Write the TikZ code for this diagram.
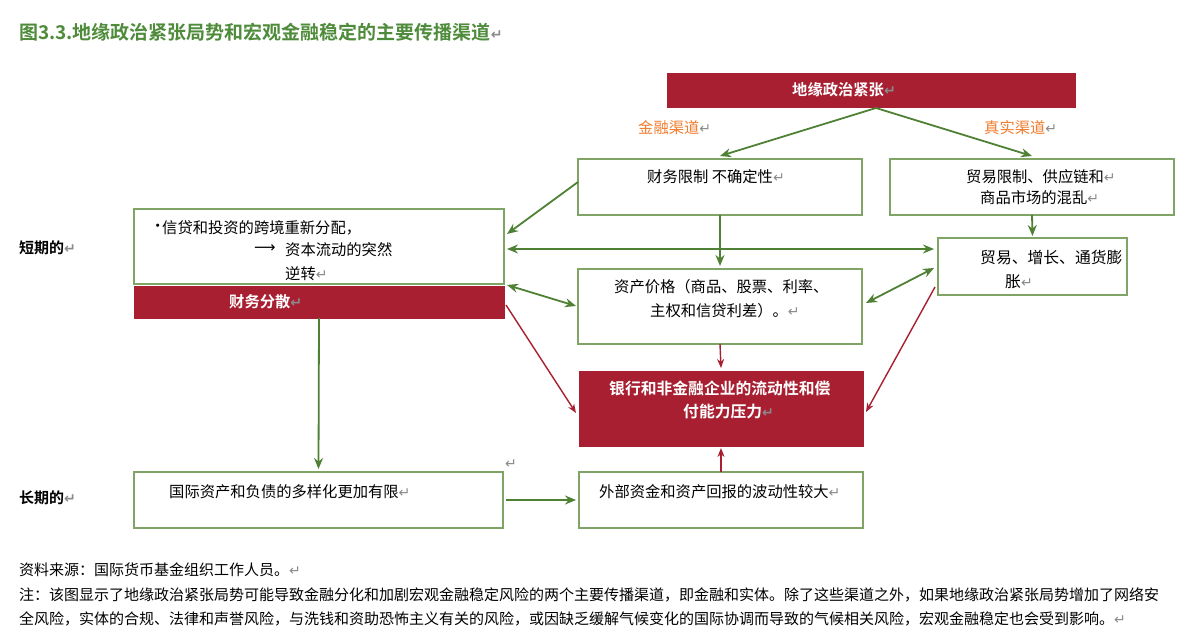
\documentclass[tikz,border=0pt]{standalone}
\usepackage{fontspec}
\setmainfont{Noto Sans CJK SC}[BoldFont={Noto Sans CJK SC Bold}]
\newfontfamily\djv{DejaVu Sans}
\usetikzlibrary{arrows.meta,calc}
\definecolor{darkred}{HTML}{A71F30}
\definecolor{arrowgreen}{HTML}{4F8135}
\definecolor{boxgreen}{HTML}{7FA466}
\definecolor{titlegreen}{HTML}{4E8B3A}
\definecolor{chanorange}{HTML}{F07D2E}
\definecolor{retgray}{HTML}{8A8A8A}
\newcommand\retmk{{\djv\fontsize{14pt}{14pt}\selectfont\color{retgray}↵}}
\begin{document}
\begin{tikzpicture}[x=1pt,y=-1pt,
  greenbox/.style={draw=boxgreen,line width=1.3pt,fill=white,inner sep=0pt,outer sep=0pt,anchor=north west},
  redbox/.style={fill=darkred,draw=darkred,line width=0.6pt,inner sep=0pt,outer sep=0pt,anchor=north west},
  txt/.style={inner sep=0pt,anchor=west,font=\fontsize{15.3pt}{18pt}\selectfont},
  bigtxt/.style={txt,font=\fontsize{15.8pt}{18pt}\selectfont},
  wtxt/.style={txt,text=white,font=\fontsize{15.3pt}{18pt}\selectfont\bfseries},
  wbigtxt/.style={txt,text=white,font=\fontsize{15.8pt}{18pt}\selectfont\bfseries},
  garrow/.style={draw=arrowgreen,line width=1.8pt,-{Stealth[length=11pt,width=9pt]}},
  gdarrow/.style={draw=arrowgreen,line width=1.8pt,{Stealth[length=11pt,width=9pt]}-{Stealth[length=11pt,width=9pt]}},
  rarrow/.style={draw=darkred,line width=1.4pt,-{Stealth[length=9pt,width=7pt]}}]
\useasboundingbox (0,0) rectangle (1200,644);
\fill[white] (0,0) rectangle (1200,644);

% title
\node[txt,anchor=west,text=titlegreen,font=\fontsize{19pt}{22pt}\selectfont\bfseries] (title) at (19,32) {图3.3.地缘政治紧张局势和宏观金融稳定的主要传播渠道\retmk};

% boxes
\node[redbox,minimum width=408pt,minimum height=34pt] (top) at (667,73) {};
\node[greenbox,minimum width=284pt,minimum height=56pt] (fin) at (578,159) {};
\node[greenbox,minimum width=284pt,minimum height=56pt] (trade) at (890,159) {};
\node[greenbox,minimum width=189pt,minimum height=57pt] (tgi) at (938,238) {};
\node[greenbox,minimum width=284pt,minimum height=75pt] (asset) at (578,269) {};
\node[redbox,minimum width=284pt,minimum height=75pt] (bank) at (579,371) {};
\node[greenbox,minimum width=370pt,minimum height=75pt] (credit) at (134,209) {};
\node[redbox,minimum width=370pt,minimum height=32pt] (disp) at (134,286) {};
\node[greenbox,minimum width=369pt,minimum height=56pt] (intl) at (134,472) {};
\node[greenbox,minimum width=284pt,minimum height=56pt] (ext) at (579,472) {};

% texts in boxes
\node[wtxt] (toptxt) at (792,90) {地缘政治紧张\retmk};
\node[txt,text=chanorange] (finch) at (638,128) {金融渠道\retmk};
\node[txt,text=chanorange] (realch) at (984,128) {真实渠道\retmk};
\node[txt] (fintxt) at (647,177) {财务限制 不确定性\retmk};
\node[txt] (tradetxta) at (966,177) {贸易限制、供应链和\retmk};
\node[txt] (tradetxtb) at (980,198) {商品市场的混乱\retmk};
\node[bigtxt] (tgitxta) at (980,257) {贸易、增长、通货膨};
\node[bigtxt] (tgitxtb) at (1005,282) {胀\retmk};
\node[txt] (assettxta) at (614,287) {资产价格（商品、股票、利率、};
\node[txt] (assettxtb) at (650,311) {主权和信贷利差）。\retmk};
\node[wbigtxt] (banktxta) at (609,388) {银行和非金融企业的流动性和偿};
\node[wbigtxt] (banktxtb) at (683,412) {付能力压力\retmk};
\node[txt] (bullet) at (150,228) {•};
\node[txt] (credittxta) at (162,228) {信贷和投资的跨境重新分配，};
\node[txt,font=\djv\fontsize{15pt}{18pt}\selectfont] (credarr) at (254,249) {⟶};
\node[txt] (credittxtb) at (285,250) {资本流动的突然};
\node[txt] (credittxtc) at (285,274) {逆转\retmk};
\node[wtxt] (disptxt) at (229,302) {财务分散\retmk};
\node[txt] (intltxt) at (169,492) {国际资产和负债的多样化更加有限\retmk};
\node[txt] (exttxt) at (599,492) {外部资金和资产回报的波动性较大\retmk};

% side labels
\node[txt,font=\fontsize{15pt}{18pt}\selectfont\bfseries] (short) at (19,248) {短期的\retmk};
\node[txt,font=\fontsize{15pt}{18pt}\selectfont\bfseries] (long) at (19,498) {长期的\retmk};
\node[txt] (stray) at (505,464) {\retmk};

% footer
\node[txt,font=\fontsize{15pt}{18pt}\selectfont] (src) at (19,570) {资料来源：国际货币基金组织工作人员。\retmk};
\node[txt,font=\fontsize{15pt}{18pt}\selectfont] (notea) at (19,595) {注：该图显示了地缘政治紧张局势可能导致金融分化和加剧宏观金融稳定风险的两个主要传播渠道，即金融和实体。除了这些渠道之外，如果地缘政治紧张局势增加了网络安};
\node[txt,font=\fontsize{15pt}{18pt}\selectfont] (noteb) at (19,619) {全风险，实体的合规、法律和声誉风险，与洗钱和资助恐怖主义有关的风险，或因缺乏缓解气候变化的国际协调而导致的气候相关风险，宏观金融稳定也会受到影响。\retmk};

% green arrows
\draw[garrow] ($(top.south)+(5,1)$) -- ([yshift=3pt]fin.north);
\draw[garrow] ($(top.south)+(5,1)$) -- ([yshift=3pt]trade.north);
\draw[garrow] ($(fin.west)+(0,-5)$) -- ($(credit.east)+(3,-12.5)$);
\draw[gdarrow] ($(credit.east)+(3,2.5)$) -- ($(tgi.west)+(-4,-17.5)$);
\draw[gdarrow] ($(credit.south east)+(3,1)$) -- ($(asset.west)+(-2,-0.5)$);
\draw[garrow] (fin.south) -- ([yshift=3pt]asset.north);
\draw[garrow] (trade.south) -- ([yshift=2pt]tgi.north);
\draw[gdarrow] ($(asset.east)+(4,-3.5)$) -- ($(tgi.west)+(-4,1.5)$);
\draw[garrow] (disp.south) -- ([yshift=3pt]intl.north);
\draw[garrow] ($(intl.east)+(3,0)$) -- ($(ext.west)+(-3,0)$);

% red arrows
\draw[rarrow] ($(disp.east)+(2,3)$) -- ($(bank.west)+(-3,4.5)$);
\draw[rarrow] ($(tgi.west)+(-3,20.5)$) -- ($(bank.east)+(3,3.5)$);
\draw[rarrow] (asset.south) -- ([yshift=3pt]bank.north);
\draw[rarrow] (ext.north) -- ([yshift=-2pt]bank.south);
\end{tikzpicture}
\end{document}
